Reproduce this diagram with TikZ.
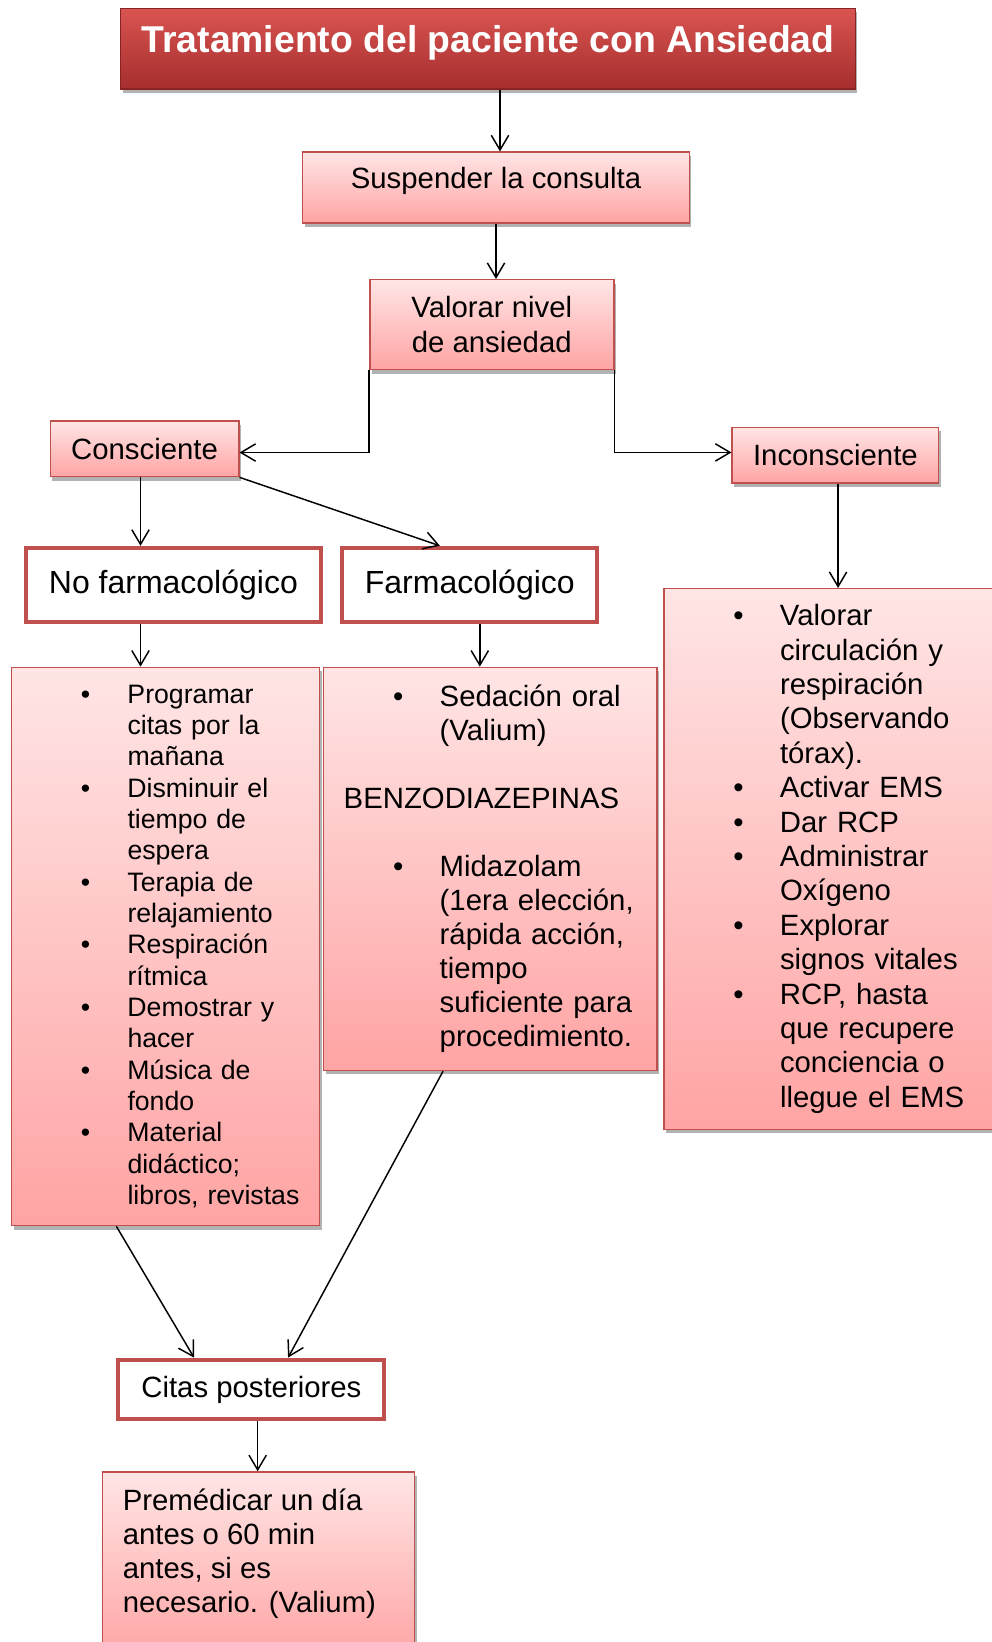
\documentclass[tikz,border=0pt]{standalone}
\usepackage{fontspec}
\setmainfont{Liberation Sans}
\usetikzlibrary{arrows.meta,shadows}

\definecolor{boxred}{RGB}{192,80,77}
\definecolor{titletop}{RGB}{217,84,81}
\definecolor{titlebot}{RGB}{165,46,46}
\definecolor{titleline}{RGB}{135,35,35}
\definecolor{pinktop}{RGB}{255,229,229}
\definecolor{pinkbot}{RGB}{255,164,164}

\newcommand{\bul}{\makebox[87pt][l]{\hspace*{52pt}\textbullet}}
\newcommand{\cnt}{\hspace*{87pt}}

\tikzset{
    softshadow/.style={drop shadow={shadow xshift=1.5pt, shadow yshift=-3pt, opacity=0.3, fill=black}},
    titlebox/.style={draw=titleline, line width=1pt, top color=titletop, bottom color=titlebot, text=white,
        font=\fontsize{28}{32}\selectfont\bfseries, softshadow},
    pinkbox/.style={draw=boxred, line width=1.1pt, top color=pinktop, bottom color=pinkbot,
        font=\fontsize{22}{26}\selectfont, align=center, softshadow},
    listbox/.style={pinkbox, align=left, inner xsep=0pt},
    thickbox/.style={draw=boxred, line width=3pt, fill=white, font=\fontsize{24}{28}\selectfont},
    arr/.style={-{Straight Barb[length=11pt,width=13pt]}, line width=1.1pt},
    elbow/.style={to path={|- (\tikztotarget)}}
}

\begin{document}
\begin{tikzpicture}[x=0.75pt, y=-0.75pt]
        \useasboundingbox (0,0) rectangle (992,1642);
        \clip (0,0) rectangle (992,1642);

        \node[titlebox, minimum width=551pt, minimum height=60.5pt] at (488, 48.7)(title){\raisebox{4.7pt}[20.4pt][5.9pt]{Tratamiento del paciente con Ansiedad}};
        \node[pinkbox, minimum width=290pt, minimum height=53pt] at (496, 187.5)(sus){\raisebox{4.7pt}[16pt][4.6pt]{Suspender la consulta}};
        \node[pinkbox, minimum width=183pt, minimum height=67.5pt] at (491.8, 324.7)(val){Valorar nivel\\de ansiedad};
        \node[pinkbox, minimum width=141.4pt, minimum height=41.7pt] at (144.5, 448.8)(con){Consciente};
        \node[pinkbox, minimum width=154.8pt, minimum height=41.6pt] at (835.4, 455.1)(inc){Inconsciente};
        \node[thickbox, minimum width=220.7pt, minimum height=55.8pt] at (173.4, 585)(nof){No farmacológico};
        \node[thickbox, minimum width=191pt, minimum height=55.8pt] at (469.8, 585)(farm){Farmacológico};

        \node[listbox, text width=231pt, minimum height=418.7pt, font=\fontsize{20}{23.5}\selectfont]
            at (165.5, 946.5)(noflist){\bul Programar\\ \cnt citas por la\\ \cnt mañana\\
            \bul Disminuir el\\ \cnt tiempo de\\ \cnt espera\\
            \bul Terapia de\\ \cnt relajamiento\\
            \bul Respiración\\ \cnt rítmica\\
            \bul Demostrar y\\ \cnt hacer\\
            \bul Música de\\ \cnt fondo\\
            \bul Material\\ \cnt didáctico;\\ \cnt libros, revistas};
        \node[listbox, text width=249.8pt, minimum height=302.3pt, font=\fontsize{22}{25.5}\selectfont]
            at (490.25, 868.9)(farmlist){\bul Sedación oral\\ \cnt (Valium)\\ \mbox{}\\
            \hspace*{15pt}BENZODIAZEPINAS\\ \mbox{}\\
            \bul Midazolam\\ \cnt (1era elección,\\ \cnt rápida acción,\\ \cnt tiempo\\
            \cnt suficiente para\\ \cnt procedimiento.};
        \node[listbox, text width=252pt, minimum height=405.4pt, font=\fontsize{22}{25.8}\selectfont]
            at (832, 859)(inclist){\bul Valorar\\ \cnt circulación y\\ \cnt respiración\\
            \cnt (Observando\\ \cnt tórax).\\
            \bul Activar EMS\\
            \bul Dar RCP\\
            \bul Administrar\\ \cnt Oxígeno\\
            \bul Explorar\\ \cnt signos vitales\\
            \bul RCP, hasta\\ \cnt que recupere\\ \cnt conciencia o\\ \cnt llegue el EMS};

        \node[thickbox, minimum width=199.5pt, minimum height=44.8pt, font=\fontsize{22}{26}\selectfont]
            at (251.4, 1389.5)(cit){Citas posteriores};
        \node[pinkbox, inner sep=0pt, font=\fontsize{22}{25.4}\selectfont] at (258.75, 1566)(pre){%
            \parbox[c][141pt][t]{234pt}{\vspace*{13pt}%
            \hspace*{15pt}Premédicar un día\\
            \hspace*{15pt}antes o 60 min\\
            \hspace*{15pt}antes, si es\\
            \hspace*{15pt}necesario. (Valium)}};

        \path[arr]
        ([xshift=3pt]title.south -| sus.north) edge ([xshift=3pt]sus.north)
        (sus.south) edge (sus.south |- val.north)
        (val.south west) edge[elbow] ([yshift=-2.8pt]con.east)
        (val.south east) edge[elbow] ([yshift=2pt]inc.west)
        ([xshift=-3pt]con.south) edge ([xshift=-3pt]con.south |- nof.north)
        (con.south east) edge ([xshift=-22.4pt]farm.north)
        ([xshift=2pt]inc.south) edge ([xshift=2pt]inc.south |- inclist.north)
        ([xshift=-3pt]nof.south -| con.south) edge ([xshift=-3pt]noflist.north -| con.south)
        ([xshift=7.5pt]farm.south) edge ([xshift=7.5pt]farm.south |- farmlist.north)
        (noflist.south -| cit.west) edge ([xshift=-43pt]cit.north)
        ([xshift=-35.4pt]farmlist.south) edge ([xshift=27.5pt]cit.north)
        ([xshift=4.7pt]cit.south) edge ([xshift=4.7pt]cit.south |- pre.north)
        ;
    \end{tikzpicture}
\end{document}
